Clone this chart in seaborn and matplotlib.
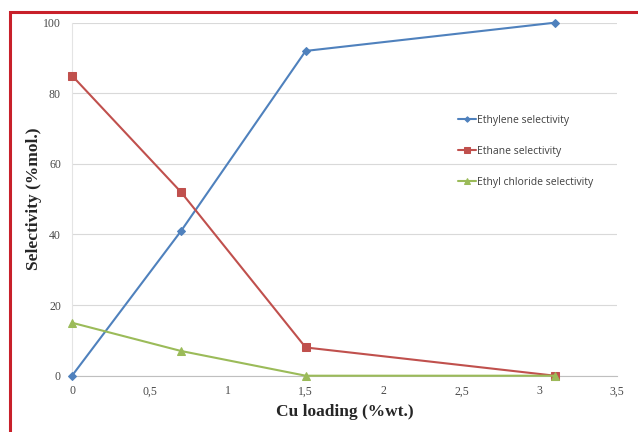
"""Selectivity vs Cu loading chart."""

import matplotlib.pyplot as plt
import pandas as pd
import seaborn as sns
from matplotlib.patches import Rectangle
from matplotlib.ticker import FuncFormatter

CU_LOADING = [0, 0.7, 1.5, 3.1]
ETHYLENE = [0, 41, 92, 100]
ETHANE = [85, 52, 8, 0]
ETHYL_CHLORIDE = [15, 7, 0, 0]
SERIES_NAMES = ["Ethylene selectivity", "Ethane selectivity", "Ethyl chloride selectivity"]
X_TICKS = [0, 0.5, 1, 1.5, 2, 2.5, 3, 3.5]
Y_TICKS = [0, 20, 40, 60, 80, 100]

COLORS = ["#4f81bd", "#c0504d", "#9bbb59"]
MARKERS = ["D", "s", "^"]
SIZES = [4, 6, 6]


def build_frame():
    rows = []
    for name, values in zip(SERIES_NAMES, [ETHYLENE, ETHANE, ETHYL_CHLORIDE]):
        for x, y in zip(CU_LOADING, values):
            rows.append({"loading": x, "selectivity": y, "series": name})
    return pd.DataFrame(rows)


sns.set_style("white")
fig = plt.figure(figsize=(6.38, 4.32), dpi=100)
ax = fig.add_axes([0.1129, 0.1303, 0.8545, 0.8172])

df = build_frame()
for name, color, marker, size in zip(SERIES_NAMES, COLORS, MARKERS, SIZES):
    part = df[df["series"] == name]
    sns.lineplot(
        data=part, x="loading", y="selectivity", ax=ax, color=color,
        marker=marker, markersize=size, markeredgecolor=color,
        linewidth=1.5, label=name, clip_on=False, zorder=3,
    )

ax.set_xlim(0, 3.5)
ax.set_ylim(0, 100)
ax.set_xticks(X_TICKS)
ax.set_yticks(Y_TICKS)
ax.xaxis.set_major_formatter(FuncFormatter(lambda v, p: f"{v:g}".replace(".", ",")))
ax.yaxis.grid(True, color="#d9d9d9", linewidth=0.8)
ax.set_axisbelow(True)
for side in ["top", "right"]:
    ax.spines[side].set_visible(False)
ax.spines["left"].set_color("#e4e4e4")
ax.spines["bottom"].set_color("#bfbfbf")
ax.tick_params(axis="x", direction="out", length=4, color="#bfbfbf", pad=3)
ax.tick_params(axis="y", direction="out", length=5, color="#d9d9d9", pad=3)
for label in ax.get_xticklabels() + ax.get_yticklabels():
    label.set_fontfamily("Liberation Serif")
    label.set_fontsize(8.5)
    label.set_color("#4a4a4a")

ax.set_xlabel("Cu loading (%wt.)", fontfamily="Liberation Serif",
              fontweight="bold", fontsize=12.5, labelpad=5)
ax.set_ylabel("Selectivity (%mol.)", fontfamily="Liberation Serif",
              fontweight="bold", fontsize=12.5, labelpad=1)

legend = ax.legend(
    loc="upper left", bbox_to_anchor=(0.69, 0.765), frameon=False,
    prop={"family": "Open Sans", "size": 7.5}, labelspacing=1.9,
    handlelength=1.8, handletextpad=0.1, markerscale=0.7,
)
for text in legend.get_texts():
    text.set_color("#404040")

fig.patches.append(Rectangle((9.5 / 638, -0.05), 1.1, 1.05 - 12 / 432,
                             transform=fig.transFigure, fill=False,
                             edgecolor="#c8202a", linewidth=2.2))

fig.savefig("out.png", dpi=100)
